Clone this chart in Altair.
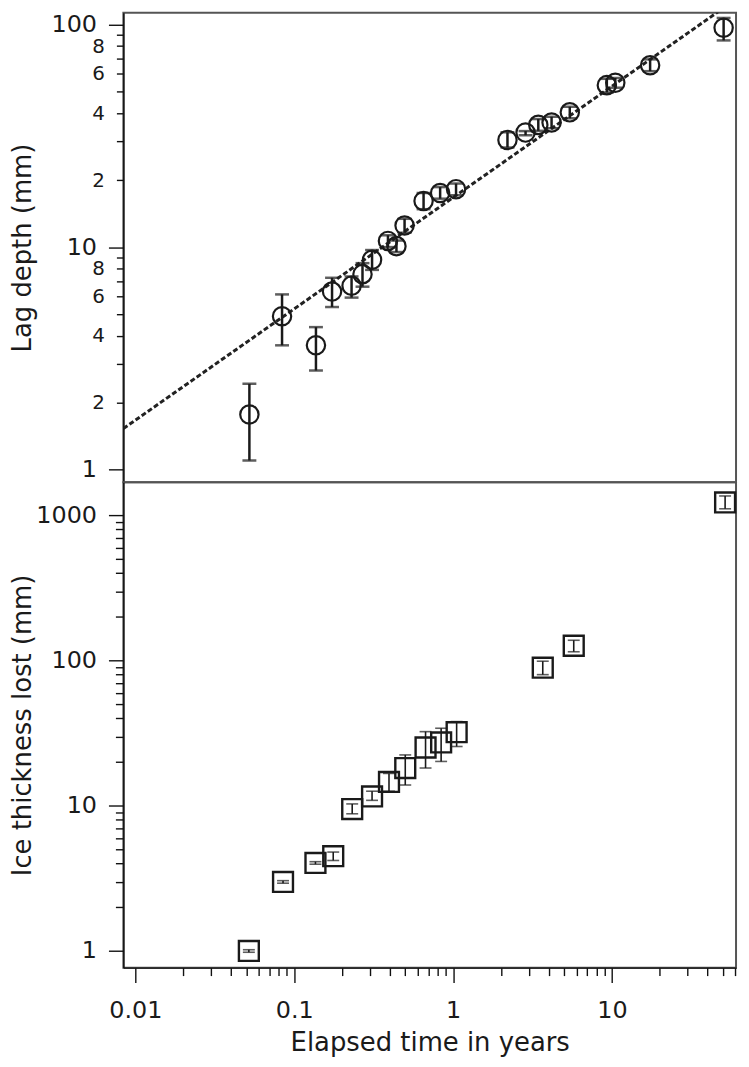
import altair as alt
import pandas as pd

# ---------------- data ----------------
# top panel: lag depth (mm) vs elapsed time (years)
lag_t = [0.0522, 0.0838, 0.137, 0.173, 0.2296, 0.269, 0.309, 0.389, 0.44, 0.495, 0.652,
         0.829, 1.044, 2.20, 2.86, 3.44, 4.17, 5.43, 9.29, 10.5, 17.4, 50.5]
lag_v = [1.77, 4.89, 3.62, 6.31, 6.71, 7.56, 8.77, 10.66, 10.1, 12.5, 16.1,
         17.5, 18.2, 30.3, 32.7, 35.4, 36.3, 40.3, 53.4, 54.7, 65.6, 96.7]
lag_lo = [1.10, 3.62, 2.79, 5.38, 5.93, 6.64, 7.9, 10.0, 9.5, 11.6, 14.8,
          16.5, 17.1, 28.0, 31.8, 33.3, 34.2, 37.9, 49.5, 52.0, 61.7, 84.8]
lag_hi = [2.43, 6.13, 4.37, 7.28, 7.38, 8.47, 9.7, 11.3, 10.7, 13.4, 17.5,
          18.6, 19.3, 32.8, 33.2, 37.6, 38.5, 42.7, 57.0, 57.5, 69.7, 107.0]

# dashed fit line end points
fit_t = [0.0084, 46.6]
fit_v = [1.53, 114.0]

# bottom panel: ice thickness lost (mm)
ice_t = [0.0518, 0.085, 0.136, 0.176, 0.2317, 0.309, 0.395, 0.50, 0.671, 0.841, 1.053,
         3.67, 5.75, 51.6]
ice_v = [1.0, 2.99, 4.04, 4.5, 9.5, 11.6, 14.6, 18.2, 25.2, 27.3, 32.1,
         89.3, 126.5, 1228.0]
ice_lo = [0.98, 2.93, 3.96, 4.2, 8.81, 10.9, 12.6, 13.9, 18.2, 20.2, 25.6,
          80.0, 115.0, 1110.0]
ice_hi = [1.02, 3.05, 4.12, 4.8, 10.3, 12.6, 16.7, 22.4, 32.4, 34.2, 38.0,
          99.0, 138.0, 1360.0]

# axis tick values
x_major = [0.01, 0.1, 1, 10]
x_minor = [0.02, 0.03, 0.04, 0.05, 0.06, 0.07, 0.08, 0.09,
           0.2, 0.3, 0.4, 0.5, 0.6, 0.7, 0.8, 0.9,
           2, 3, 4, 5, 6, 7, 8, 9,
           20, 30, 40, 50, 60]
top_ticks = [1, 2, 3, 4, 5, 6, 7, 8, 9, 10, 20, 30, 40, 50, 60, 70, 80, 90, 100]
bot_ticks = [1, 2, 3, 4, 5, 6, 7, 8, 9, 10, 20, 30, 40, 50, 60, 70, 80, 90,
             100, 200, 300, 400, 500, 600, 700, 800, 900, 1000]

FONT = "DejaVu Sans"
INK = "#1a1a1a"

lag = pd.DataFrame({"t": lag_t, "v": lag_v, "lo": lag_lo, "hi": lag_hi})
lag_caps = pd.DataFrame({"t": lag_t + lag_t, "c": lag_lo + lag_hi})
fit = pd.DataFrame({"t": fit_t, "v": fit_v})
ice = pd.DataFrame({"t": ice_t, "v": ice_v, "lo": ice_lo, "hi": ice_hi})
ice_caps = pd.DataFrame({"t": ice_t + ice_t, "c": ice_lo + ice_hi})

W = 616
x_scale = alt.Scale(type="log", domain=[0.0084, 60.45], nice=False)
top_scale = alt.Scale(type="log", domain=[0.878, 112.8], nice=False)
bot_scale = alt.Scale(type="log", domain=[0.768, 1690], nice=False)

big_test_top = "datum.value == 1 || datum.value == 10 || datum.value == 100"
top_axis = alt.Axis(
    values=top_ticks,
    title="Lag depth (mm)",
    titleFont=FONT, titleFontSize=26, titleFontWeight="normal", titleColor=INK,
    titleX=-88, titleBaseline="bottom",
    labelFont=FONT, labelColor=INK,
    labelFontSize={"condition": {"test": big_test_top, "value": 24}, "value": 20},
    tickSize={"condition": {"test": big_test_top, "value": 15}, "value": 7},
    labelPadding=12,
    labelExpr=("indexof([1,2,4,6,8,10,100], datum.value) >= 0 ? format(datum.value, 'd') : "
               "(indexof([20,40,60,80], datum.value) >= 0 ? format(datum.value / 10, 'd') : '')"),
    labelBaseline="middle",
    labelOverlap=False,
    grid=False, domainColor="#111", tickColor="#111", domainWidth=1.5, tickWidth=1.4,
)

big_test_bot = "datum.value == 1 || datum.value == 10 || datum.value == 100 || datum.value == 1000"
bot_axis = alt.Axis(
    values=bot_ticks,
    title="Ice thickness lost (mm)",
    titleFont=FONT, titleFontSize=26, titleFontWeight="normal", titleColor=INK,
    titleX=-88, titleBaseline="bottom",
    labelFont=FONT, labelColor=INK, labelFontSize=24,
    tickSize={"condition": {"test": big_test_bot, "value": 15}, "value": 8},
    labelPadding=12,
    labelExpr="(" + big_test_bot + ") ? format(datum.value, 'd') : ''",
    labelBaseline="middle",
    labelOverlap=False,
    grid=False, domainColor="#111", tickColor="#111", domainWidth=1.5, tickWidth=1.4,
)

big_test_x = "datum.value == 0.01 || datum.value == 0.1 || datum.value == 1 || datum.value == 10"
x_axis = alt.Axis(
    values=x_major + x_minor,
    title="Elapsed time in years",
    titleFont=FONT, titleFontSize=26, titleFontWeight="normal", titleColor=INK,
    titleY=62, titleBaseline="top",
    labelFont=FONT, labelColor=INK, labelFontSize=24,
    tickSize={"condition": {"test": big_test_x, "value": 15}, "value": 8},
    labelPadding=16,
    labelExpr="(" + big_test_x + ") ? datum.value + '' : ''",
    labelOverlap=False,
    grid=False, domainColor="#111", tickColor="#111", domainWidth=1.5, tickWidth=1.4,
)

# ---------------- top panel ----------------
xt = alt.X("t:Q", scale=x_scale, axis=None)

fit_line = alt.Chart(fit).mark_line(
    strokeDash=[5, 2.5], strokeWidth=3, color="#222", clip=True
).encode(x=xt, y=alt.Y("v:Q", scale=top_scale, axis=top_axis))

lag_bars = alt.Chart(lag).mark_rule(strokeWidth=2.5, color=INK).encode(
    x=xt, y=alt.Y("lo:Q", scale=top_scale), y2="hi:Q")

lag_cap = alt.Chart(lag_caps).mark_tick(
    orient="horizontal", size=14, thickness=2.5, color=INK
).encode(x=xt, y=alt.Y("c:Q", scale=top_scale))

lag_pts = alt.Chart(lag).mark_point(
    shape="circle", size=340, strokeWidth=2.2, filled=False, color=INK, opacity=1
).encode(x=xt, y=alt.Y("v:Q", scale=top_scale))

top = alt.layer(fit_line, lag_bars, lag_cap, lag_pts).properties(width=W, height=472)

# ---------------- bottom panel ----------------
xb = alt.X("t:Q", scale=x_scale, axis=x_axis)

ice_bars = alt.Chart(ice).mark_rule(strokeWidth=1.6, color=INK).encode(
    x=xb, y=alt.Y("lo:Q", scale=bot_scale, axis=bot_axis), y2="hi:Q")

ice_cap = alt.Chart(ice_caps).mark_tick(
    orient="horizontal", size=12, thickness=1.6, color=INK
).encode(x=xb, y=alt.Y("c:Q", scale=bot_scale))

ice_pts = alt.Chart(ice).mark_point(
    shape="square", size=400, strokeWidth=2.4, filled=False, color=INK, opacity=1
).encode(x=xb, y=alt.Y("v:Q", scale=bot_scale))

bottom = alt.layer(ice_bars, ice_cap, ice_pts).properties(width=W, height=488)

chart = alt.vconcat(top, bottom, spacing=0, bounds="flush").properties(
    padding={"left": 0, "top": 0, "right": 0, "bottom": 0},
    background="white",
).configure_view(
    stroke="#555", strokeWidth=2
)

chart.save("out.html", embed_options={"renderer": "svg", "actions": False})
